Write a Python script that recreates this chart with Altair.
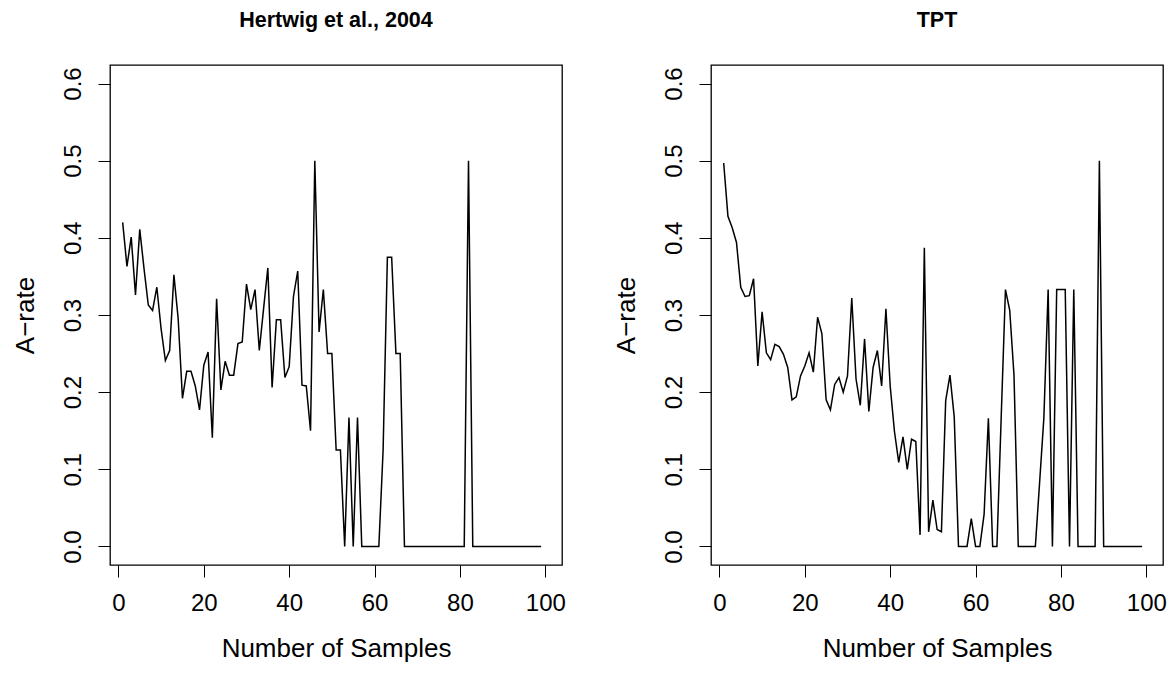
import altair as alt
import pandas as pd

FONT = "Liberation Sans"

samples = list(range(1, 100))

hertwig = [
    0.420, 0.363, 0.401, 0.326, 0.411, 0.360, 0.313, 0.306, 0.336, 0.282,
    0.241, 0.254, 0.352, 0.295, 0.192, 0.227, 0.227, 0.208, 0.177, 0.235,
    0.252, 0.141, 0.321, 0.203, 0.240, 0.222, 0.222, 0.263, 0.265, 0.340,
    0.307, 0.333, 0.254, 0.308, 0.361, 0.206, 0.294, 0.294, 0.219, 0.233,
    0.324, 0.357, 0.209, 0.208, 0.150, 0.500, 0.278, 0.333, 0.250, 0.250,
    0.125, 0.125, 0.000, 0.167, 0.000, 0.167, 0.000, 0.000, 0.000, 0.000,
    0.000, 0.125, 0.375, 0.375, 0.250, 0.250, 0.000, 0.000, 0.000, 0.000,
    0.000, 0.000, 0.000, 0.000, 0.000, 0.000, 0.000, 0.000, 0.000, 0.000,
    0.000, 0.500, 0.000, 0.000, 0.000, 0.000, 0.000, 0.000, 0.000, 0.000,
    0.000, 0.000, 0.000, 0.000, 0.000, 0.000, 0.000, 0.000, 0.000,
]

tpt = [
    0.497, 0.428, 0.413, 0.394, 0.336, 0.324, 0.325, 0.347, 0.234, 0.304,
    0.251, 0.242, 0.262, 0.259, 0.249, 0.232, 0.190, 0.194, 0.221, 0.234,
    0.251, 0.226, 0.297, 0.276, 0.190, 0.177, 0.210, 0.219, 0.200, 0.221,
    0.322, 0.217, 0.183, 0.269, 0.175, 0.232, 0.254, 0.208, 0.308, 0.208,
    0.149, 0.109, 0.142, 0.100, 0.139, 0.136, 0.015, 0.387, 0.019, 0.060,
    0.022, 0.019, 0.189, 0.222, 0.168, 0.000, 0.000, 0.000, 0.036, 0.000,
    0.000, 0.042, 0.166, 0.000, 0.000, 0.167, 0.333, 0.306, 0.222, 0.000,
    0.000, 0.000, 0.000, 0.000, 0.083, 0.167, 0.333, 0.000, 0.333, 0.333,
    0.333, 0.000, 0.333, 0.000, 0.000, 0.000, 0.000, 0.000, 0.500, 0.000,
    0.000, 0.000, 0.000, 0.000, 0.000, 0.000, 0.000, 0.000, 0.000,
]

x_ticks = [0, 20, 40, 60, 80, 100]
y_ticks = [0.0, 0.1, 0.2, 0.3, 0.4, 0.5, 0.6]
titles = ["Hertwig et al., 2004", "TPT"]

W = 452
H = 500


def panel(vals, title):
    df = pd.DataFrame({"n": samples, "a": vals})
    return (
        alt.Chart(
            df,
            title=alt.TitleParams(
                title, font=FONT, fontSize=21.5, fontWeight="bold",
                color="black", anchor="middle", baseline="alphabetic", offset=17,
            ),
        )
        .mark_line(color="black", strokeWidth=1.5)
        .encode(
            x=alt.X(
                "n:Q",
                scale=alt.Scale(domain=[-1.97, 103.9], nice=False, zero=False),
                axis=alt.Axis(
                    values=x_ticks, format="d", title="Number of Samples",
                    grid=False, domain=False, tickSize=12, tickColor="black",
                    tickWidth=1, labelFont=FONT, labelFontSize=24,
                    labelColor="black", labelBaseline="alphabetic",
                    labelPadding=33, labelFlush=False, labelOverlap=False,
                    titleFont=FONT, titleFontSize=26, titleFontWeight="normal",
                    titleColor="black", titleBaseline="alphabetic",
                    titleAlign="center", titleX=W / 2, titleY=91,
                ),
            ),
            y=alt.Y(
                "a:Q",
                scale=alt.Scale(domain=[-0.024, 0.624], nice=False, zero=False),
                axis=alt.Axis(
                    values=y_ticks, format=".1f", title="A\u2212rate",
                    grid=False, domain=False, tickSize=12, tickColor="black",
                    tickWidth=1, labelFont=FONT, labelFontSize=24,
                    labelColor="black", labelAngle=270, labelAlign="center",
                    labelBaseline="alphabetic", labelPadding=18,
                    labelFlush=False, labelOverlap=False,
                    titleFont=FONT, titleFontSize=26, titleFontWeight="normal",
                    titleColor="black", titleAngle=270, titleAlign="center",
                    titleBaseline="alphabetic", titleX=-77, titleY=H / 2,
                ),
            ),
        )
        .properties(width=W, height=H)
    )


chart = (
    alt.hconcat(panel(hertwig, titles[0]), panel(tpt, titles[1]), spacing=149, bounds="flush")
    .configure_view(stroke="black", strokeWidth=1.3)
    .properties(padding={"left": 3, "top": 0, "right": 0, "bottom": 0}, background="white")
)

chart.save("out.html", embed_options={"renderer": "svg", "actions": False})
